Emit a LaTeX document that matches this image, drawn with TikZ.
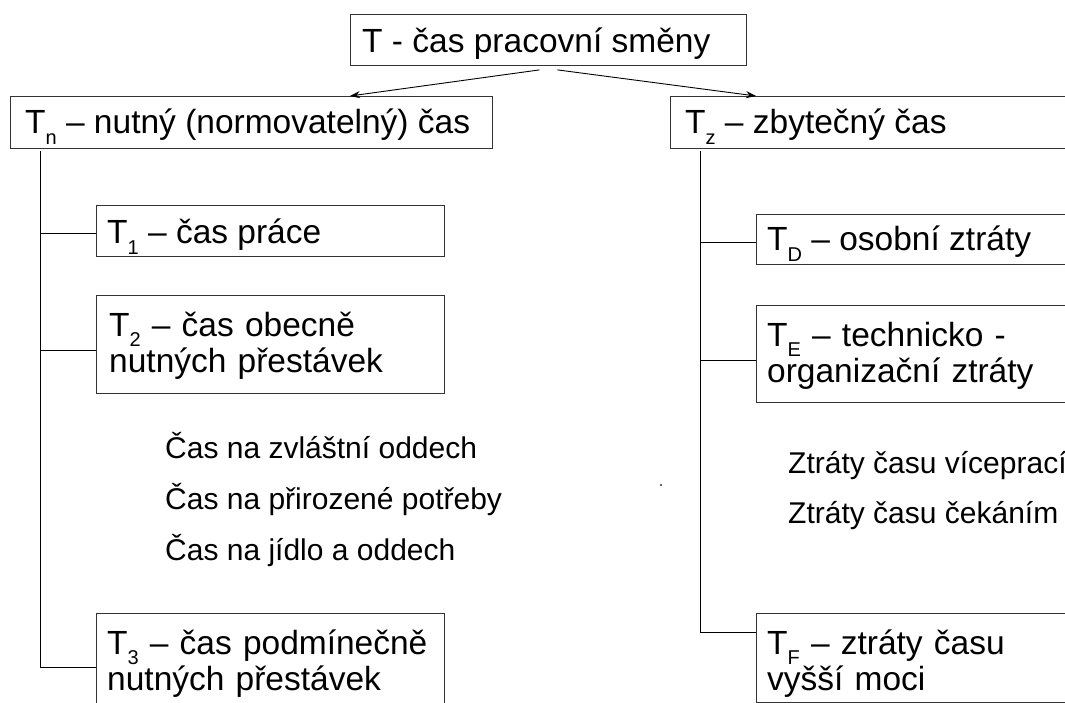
\documentclass[tikz,border=0pt]{standalone}
\usepackage{fontspec}
\setmainfont{Liberation Sans}
\usetikzlibrary{arrows.meta}
\newcommand\subx[1]{\raisebox{-0.3em}{\fontsize{20}{20}\selectfont #1}}
\begin{document}
\begin{tikzpicture}[x=1pt,y=-1pt,
  box/.style={draw=black!80,line width=0.9pt,rectangle,inner sep=0pt,anchor=north west},
  big/.style={anchor=base west,inner sep=0pt,font=\fontsize{33.5}{36}\selectfont},
  bigtwo/.style={big,text width=420pt,align=left},
  small/.style={anchor=base west,inner sep=0pt,font=\fontsize{30}{36}\selectfont},
  link/.style={line width=0.9pt},
  arr/.style={link,-{Stealth[length=10pt,width=7pt]}}]
\useasboundingbox (0,0) rectangle (1065,703);
\clip (0,0) rectangle (1065,703);
% boxes
\node[box,minimum width=396pt,minimum height=51pt] (t) at (350,14) {};
\node[box,minimum width=482pt,minimum height=52pt] (tn) at (10,96) {};
\node[box,minimum width=450pt,minimum height=52pt] (tz) at (670,96) {};
\node[box,minimum width=348pt,minimum height=51pt] (t1) at (96,205) {};
\node[box,minimum width=348pt,minimum height=98pt] (t2) at (96,295) {};
\node[box,minimum width=348pt,minimum height=130pt] (t3) at (96,613) {};
\node[box,minimum width=364pt,minimum height=50pt] (td) at (756,214) {};
\node[box,minimum width=364pt,minimum height=97pt] (te) at (756,305) {};
\node[box,minimum width=364pt,minimum height=89pt] (tf) at (756,613) {};
% texts
\node[big] (tt) at (362,53) {T - čas pracovní směny};
\node[big] (tnt) at (25,134) {T\subx{n} – nutný (normovatelný) čas};
\node[big] (tzt) at (685,134) {T\subx{z} – zbytečný čas};
\node[big] (t1t) at (107,244) {T\subx{1} – čas práce};
\node[bigtwo] (t2t) at (109,336) {T\subx{2} – čas obecně\\nutných přestávek};
\node[bigtwo] (t3t) at (107,654) {T\subx{3} – čas podmínečně\\nutných přestávek};
\node[big] (tdt) at (767,251) {T\subx{D} – osobní ztráty};
\node[bigtwo] (tet) at (767,346) {T\subx{E} – technicko -\\organizační ztráty};
\node[bigtwo] (tft) at (767,654) {T\subx{F} – ztráty času\\vyšší moci};
\node[small] (s1) at (165,458) {Čas na zvláštní oddech};
\node[small] (s2) at (165,509) {Čas na přirozené potřeby};
\node[small] (s3) at (165,560) {Čas na jídlo a oddech};
\node[small] (s4) at (788,473) {Ztráty času víceprací};
\node[small] (s5) at (788,523) {Ztráty času čekáním};
% arrows
\draw[arr] ([xshift=-9pt,yshift=-4pt]t.south) -- ([xshift=340pt]tn.north west);
\draw[arr] ([xshift=9pt,yshift=-4pt]t.south) -- ([xshift=86pt]tz.north west);
% left tree
\coordinate (ltop) at (40,151);
\coordinate (l1) at (40,233);
\coordinate (l2) at (40,350);
\coordinate (l3) at (40,667);
\draw[link] (ltop) -- (l3) -- (l3 -| t3.west);
\draw[link] (l1) -- (l1 -| t1.west);
\draw[link] (l2) -- (l2 -| t2.west);
% right tree
\coordinate (rtop) at (700,151);
\coordinate (r1) at (700,242);
\coordinate (r2) at (700,360);
\coordinate (r3) at (700,632);
\draw[link] (rtop) -- (r3) -- (r3 -| tf.west);
\draw[link] (r1) -- (r1 -| td.west);
\draw[link] (r2) -- (r2 -| te.west);
% stray dot
\fill[black!60] (660,484) rectangle (662,486);
\end{tikzpicture}
\end{document}
